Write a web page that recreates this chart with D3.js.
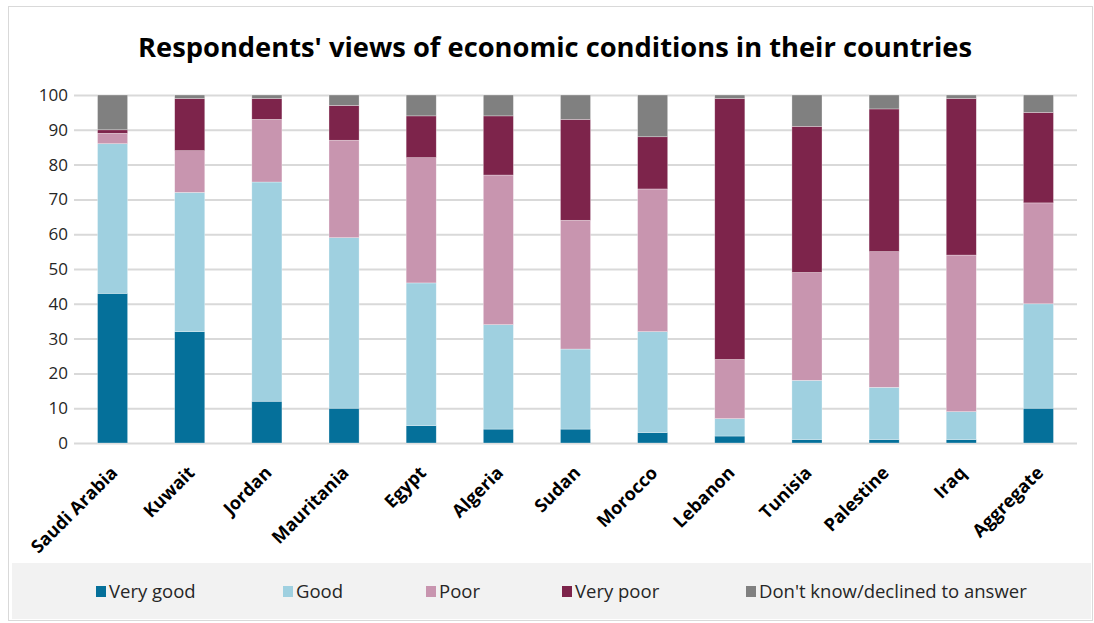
<!DOCTYPE html>
<html>
<head>
<meta charset="utf-8">
<script src="https://cdn.jsdelivr.net/npm/d3@7"></script>
<style>
  html, body { margin: 0; padding: 0; background: #fff; }
  svg { display: block; font-family: "Open Sans", "Noto Sans", sans-serif; }
</style>
</head>
<body>
<svg id="chart" width="1094" height="623"></svg>
<script>
// Survey shares (%) per country, one array per response option
const countries = ["Saudi Arabia", "Kuwait", "Jordan", "Mauritania", "Egypt", "Algeria",
  "Sudan", "Morocco", "Lebanon", "Tunisia", "Palestine", "Iraq", "Aggregate"];
const seriesNames = ["Very good", "Good", "Poor", "Very poor", "Don't know/declined to answer"];
const veryGood = [43, 32, 12, 10, 5, 4, 4, 3, 2, 1, 1, 1, 10];
const good     = [43, 40, 63, 49, 41, 30, 23, 29, 5, 17, 15, 8, 30];
const poor     = [3, 12, 18, 28, 36, 43, 37, 41, 17, 31, 39, 45, 29];
const veryPoor = [1, 15, 6, 10, 12, 17, 29, 15, 75, 42, 41, 45, 26];
const dontKnow = [10, 1, 1, 3, 6, 6, 7, 12, 1, 9, 4, 1, 5];
const yTicks = [0, 10, 20, 30, 40, 50, 60, 70, 80, 90, 100];
const colors = ["#05709a", "#9fd0e0", "#c895af", "#7d244b", "#808080"];

const seriesValues = [veryGood, good, poor, veryPoor, dontKnow];
const rows = countries.map((c, i) => {
  const r = { country: c };
  seriesNames.forEach((s, k) => { r[s] = seriesValues[k][i]; });
  return r;
});

const svg = d3.select("#chart");
const W = 1094, H = 623;
const plot = { left: 74, right: 1077, top: 95, bottom: 443 };

// chart frame
svg.append("rect").attr("x", 8.5).attr("y", 6.5).attr("width", W - 10).attr("height", H - 9)
  .attr("fill", "#fff").attr("stroke", "#d9d9d9").attr("stroke-width", 1);

// title
svg.append("text").attr("x", 555).attr("y", 57).attr("text-anchor", "middle")
  .attr("font-size", 26).attr("font-weight", 700).attr("fill", "#000")
  .attr("textLength", 834).attr("lengthAdjust", "spacingAndGlyphs")
  .text("Respondents' views of economic conditions in their countries");

const x = d3.scaleBand().domain(countries).range([plot.left, plot.right]).paddingInner(0.61).paddingOuter(0.305);
const y = d3.scaleLinear().domain([0, 100]).range([plot.bottom, plot.top]);

// gridlines + y labels
const yAxis = d3.axisLeft(y).tickValues(yTicks).tickSize(-(plot.right - plot.left)).tickPadding(8);
const gy = svg.append("g").attr("transform", `translate(${plot.left},0)`).call(yAxis);
gy.select(".domain").remove();
gy.selectAll(".tick line").attr("stroke", "#d9d9d9").attr("stroke-width", 2);
gy.selectAll(".tick text").attr("font-size", 17).attr("fill", "#262626")
  .attr("font-family", "'Open Sans', sans-serif").attr("x", -6);

// stacked bars
const stack = d3.stack().keys(seriesNames)(rows);
svg.append("g").selectAll("g").data(stack).join("g")
  .attr("fill", (d, i) => colors[i])
  .selectAll("rect").data(d => d).join("rect")
  .attr("x", d => x(d.data.country))
  .attr("width", x.bandwidth())
  .attr("y", d => y(d[1]))
  .attr("height", d => y(d[0]) - y(d[1]))
  .attr("stroke", "#fff").attr("stroke-width", 0.6).attr("stroke-opacity", 0.5);

// category labels, rotated 45 degrees
const xAxis = d3.axisBottom(x).tickSize(0).tickPadding(0);
const gx = svg.append("g").attr("transform", `translate(0,${plot.bottom})`).call(xAxis);
gx.select(".domain").remove();
gx.selectAll(".tick text")
  .attr("font-size", 18).attr("font-weight", 700).attr("fill", "#000")
  .attr("font-family", "'Open Sans', sans-serif")
  .attr("text-anchor", "end").attr("dy", 0).attr("y", 0)
  .attr("transform", "translate(6,31) rotate(-45)");

// legend band
svg.append("rect").attr("x", 12).attr("y", 563).attr("width", 1079).attr("height", 56).attr("fill", "#f2f2f2");
const legendX = [96, 283, 426, 562, 746];
const lg = svg.append("g").selectAll("g").data(seriesNames).join("g")
  .attr("transform", (d, i) => `translate(${legendX[i]},592)`);
lg.append("rect").attr("x", 0).attr("y", -6).attr("width", 10).attr("height", 11)
  .attr("fill", (d, i) => colors[i]);
lg.append("text").attr("x", 13).attr("y", 0).attr("dy", "0.35em")
  .attr("font-size", 18.5).attr("fill", "#262626").text(d => d);
</script>
</body>
</html>
